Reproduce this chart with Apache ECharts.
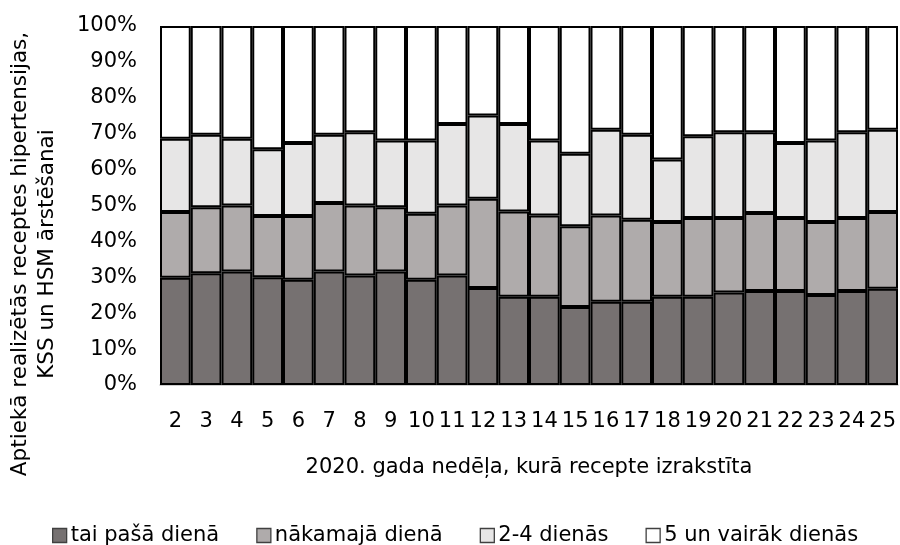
<!DOCTYPE html>
<html>
<head>
<meta charset="utf-8">
<script src="https://cdn.jsdelivr.net/npm/echarts@6/dist/echarts.min.js"></script>
<style>
html,body{margin:0;padding:0;background:#fff;}
#chart{width:900px;height:545px;}
</style>
</head>
<body>
<div id="chart"></div>
<script>
const weeks = ['2','3','4','5','6','7','8','9','10','11','12','13','14','15','16','17','18','19','20','21','22','23','24','25'];
const seriesNames = ['tai pašā dienā','nākamajā dienā','2-4 dienās','5 un vairāk dienās'];
const sameDay = [29.9,31.1,31.6,30.0,29.3,31.6,30.5,31.6,29.3,30.5,27.0,24.6,24.6,21.7,23.2,23.2,24.6,24.6,25.8,26.2,26.2,25.1,26.2,26.8];
const nextDay = [18.3,18.4,18.4,17.1,17.8,19.1,19.5,17.9,18.4,19.5,24.9,23.7,22.6,22.5,24.0,22.8,20.8,21.9,20.7,21.7,20.3,20.3,20.3,21.4];
const days2to4 = [20.4,20.2,18.6,18.6,20.3,19.0,20.4,18.6,20.4,22.7,23.2,24.4,20.9,20.2,23.9,23.7,17.4,22.8,23.9,22.5,20.9,22.7,23.9,22.9];
const days5plus = [31.4,30.3,31.4,34.3,32.6,30.3,29.6,31.9,31.9,27.3,24.9,27.3,31.9,35.6,28.9,30.3,37.2,30.7,29.6,29.6,32.6,31.9,29.6,28.9];
const yTicks = [0,10,20,30,40,50,60,70,80,90,100];
const yTitle = 'Aptiekā realizētās receptes hipertensijas,\nKSS un HSM ārstēšanai';
const xTitle = '2020. gada nedēļa, kurā recepte izrakstīta';

const colors = ['#767171','#AFABAB','#E7E6E6','#FFFFFF'];
const values = [sameDay, nextDay, days2to4, days5plus];
const FONT = 'DejaVu Sans';

const chart = echarts.init(document.getElementById('chart'), null, {renderer:'canvas'});
chart.setOption({
  animation:false,
  textStyle:{fontFamily:FONT},
  grid:{left:160, right:2, top:26, bottom:160},
  xAxis:{
    type:'category',
    data:weeks,
    axisLine:{lineStyle:{color:'#BFBFBF', width:1.5}},
    axisTick:{show:false},
    axisLabel:{color:'#000', fontSize:21, margin:26, fontFamily:FONT, interval:0},
    name:xTitle,
    nameLocation:'middle',
    nameGap:72,
    nameTextStyle:{color:'#000', fontSize:21, fontFamily:FONT}
  },
  yAxis:{
    type:'value',
    min:yTicks[0], max:yTicks[yTicks.length-1], interval:10,
    axisLine:{show:false},
    axisTick:{show:false},
    splitLine:{show:false},
    axisLabel:{color:'#000', fontSize:21, margin:23, fontFamily:FONT, formatter:'{value}%'}
  },
  graphic:[{
    type:'text',
    x:34, y:254,
    rotation:Math.PI/2,
    style:{
      text:yTitle,
      font:'21.5px "DejaVu Sans"',
      fill:'#000',
      align:'center',
      verticalAlign:'middle',
      lineHeight:27
    }
  }],
  legend:{
    top:520, left:47,
    itemWidth:14, itemHeight:14, itemGap:37,
    icon:'rect',
    textStyle:{color:'#000', fontSize:21, fontFamily:FONT, padding:[0,0,0,-1]},
    itemStyle:{borderColor:'#404040', borderWidth:1.3},
    data:seriesNames
  },
  series: seriesNames.map((n,i)=>({
    name:n,
    type:'bar',
    stack:'total',
    barCategoryGap:'0%',
    data:values[i],
    itemStyle:{color:colors[i], borderColor:'#000', borderWidth:2}
  }))
});
</script>
</body>
</html>
